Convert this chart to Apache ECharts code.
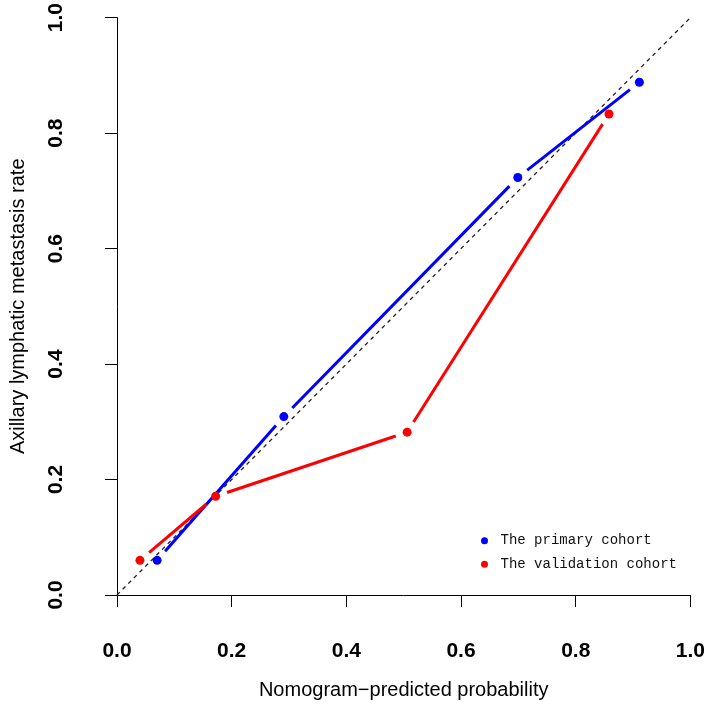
<!DOCTYPE html>
<html>
<head>
<meta charset="utf-8">
<script src="https://cdn.jsdelivr.net/npm/echarts@6/dist/echarts.min.js"></script>
<style>
html,body{margin:0;padding:0;background:#fff;}
#chart{width:708px;height:713px;}
</style>
</head>
<body>
<div id="chart"></div>
<script>
// ---- data ----
const xTicks = [0.0, 0.2, 0.4, 0.6, 0.8, 1.0];
const yTicks = [0.0, 0.2, 0.4, 0.6, 0.8, 1.0];
const primaryName = 'The primary cohort';
const primaryPredicted = [0.070, 0.291, 0.699, 0.911];
const primaryObserved  = [0.060, 0.309, 0.723, 0.888];
const validationName = 'The validation cohort';
const validationPredicted = [0.040, 0.172, 0.506, 0.858];
const validationObserved  = [0.060, 0.171, 0.282, 0.833];
const idealLine = [[0, 0], [1, 1]];
const xTitle = 'Nomogram\u2212predicted probability';
const yTitle = 'Axillary lymphatic metastasis rate';

// ---- build ----
function points(xs, ys) { return xs.map((x, i) => [x, ys[i]]); }
function segments(xs, ys) {
  const s = [];
  for (let i = 0; i < xs.length - 1; i++) s.push([xs[i], ys[i], xs[i + 1], ys[i + 1]]);
  return s;
}
const GAP = 12;
function gapLine(color) {
  return function (params, api) {
    const p1 = api.coord([api.value(0), api.value(1)]);
    const p2 = api.coord([api.value(2), api.value(3)]);
    const dx = p2[0] - p1[0], dy = p2[1] - p1[1];
    const L = Math.hypot(dx, dy);
    const ux = dx / L, uy = dy / L;
    return {
      type: 'line',
      shape: { x1: p1[0] + ux * GAP, y1: p1[1] + uy * GAP, x2: p2[0] - ux * GAP, y2: p2[1] - uy * GAP },
      style: { stroke: color, lineWidth: 3, lineCap: 'butt' }
    };
  };
}
const BLUE = '#0000ff', RED = '#ff0000';
const axisFont = { fontFamily: 'Liberation Sans', fontWeight: 'bold', fontSize: 21, color: '#000' };
const titleFont = { fontFamily: 'Liberation Sans', fontSize: 20, color: '#000' };

const chart = echarts.init(document.getElementById('chart'), null, { renderer: 'canvas' });
chart.setOption({
  animation: false,
  backgroundColor: '#fff',
  grid: { left: 116, right: 14, top: 13.5, bottom: 118, containLabel: false },
  xAxis: {
    type: 'value', min: 0, max: 1, interval: 0.2, offset: 20,
    axisLine: { show: true, lineStyle: { color: '#000', width: 1 } },
    axisTick: { show: true, length: 12, lineStyle: { color: '#000', width: 1 } },
    splitLine: { show: false },
    axisLabel: Object.assign({ margin: 26, formatter: v => v.toFixed(1), showMinLabel: true, showMaxLabel: true }, axisFont),
    name: xTitle, nameLocation: 'middle', nameGap: 65,
    nameTextStyle: titleFont
  },
  yAxis: {
    type: 'value', min: 0, max: 1, interval: 0.2, offset: 24,
    axisLine: { show: true, lineStyle: { color: '#000', width: 1 } },
    axisTick: { show: true, length: 12, lineStyle: { color: '#000', width: 1 } },
    splitLine: { show: false },
    axisLabel: Object.assign({ margin: 26, rotate: 90, formatter: v => v.toFixed(1), showMinLabel: true, showMaxLabel: true }, axisFont),
    name: yTitle, nameLocation: 'middle', nameGap: 65, nameRotate: 90,
    nameTextStyle: titleFont
  },
  legend: {
    orient: 'vertical', left: 476, top: 528.7, itemWidth: 7, itemHeight: 7, itemGap: 9.6,
    data: [{ name: primaryName, icon: 'circle' }, { name: validationName, icon: 'circle' }],
    textStyle: { fontFamily: 'Liberation Mono', fontSize: 14, color: '#111', lineHeight: 14, padding: [0, 0, 0, 7.5] }
  },
  series: [
    {
      type: 'line', data: idealLine, silent: true, showSymbol: false, symbol: 'none',
      lineStyle: { color: '#222', width: 1.3, type: [4, 4] }, z: 1
    },
    {
      type: 'custom', data: segments(primaryPredicted, primaryObserved), renderItem: gapLine(BLUE),
      encode: { x: [0, 2], y: [1, 3] }, silent: true, z: 2
    },
    {
      type: 'custom', data: segments(validationPredicted, validationObserved), renderItem: gapLine(RED),
      encode: { x: [0, 2], y: [1, 3] }, silent: true, z: 2
    },
    {
      name: primaryName, type: 'scatter', data: points(primaryPredicted, primaryObserved),
      symbol: 'circle', symbolSize: 9, itemStyle: { color: BLUE, opacity: 1 }, z: 3
    },
    {
      name: validationName, type: 'scatter', data: points(validationPredicted, validationObserved),
      symbol: 'circle', symbolSize: 9, itemStyle: { color: RED, opacity: 1 }, z: 3
    }
  ]
});
</script>
</body>
</html>
